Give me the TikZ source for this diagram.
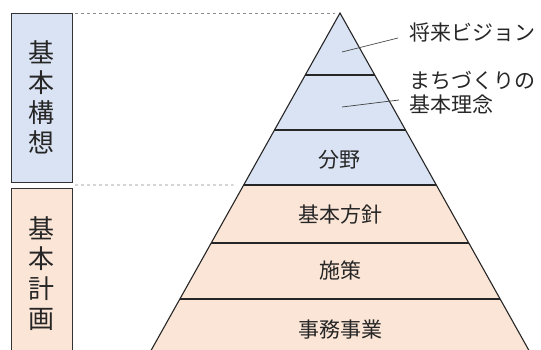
\documentclass[tikz,border=0pt]{standalone}
\usepackage{fontspec}
\setmainfont{Noto Sans CJK JP}
\usetikzlibrary{calc}

\definecolor{kosoblue}{HTML}{DAE3F3}
\definecolor{keikakuorange}{HTML}{FBE5D6}

\tikzset{
  layertext/.style={font=\fontsize{21}{24}\selectfont, text=black!85},
  sidebox/.style={draw=black!80, line width=1pt, minimum width=61pt,
    align=center, text=black!85, font=\fontsize{26}{30}\selectfont},
  guide/.style={dashed, black!45, line width=.6pt},
  leader/.style={black!75, line width=.7pt},
}

\begin{document}
\begin{tikzpicture}[x=1pt, y=-1pt]
  \clip (0,0) rectangle (541,349);

  % pyramid outline points
  \coordinate (apex) at (340,13);
  \coordinate (bl) at (145.7,360);
  \coordinate (br) at (534.3,360);

  \fill[keikakuorange] (apex) -- (bl) -- (br) -- cycle;
  \fill[kosoblue] (apex) -- ($(apex)!{172/347}!(bl)$) -- ($(apex)!{172/347}!(br)$) -- cycle;

  \foreach \y in {75,130,185,243,299}
    \draw[line width=1.1pt, black!85] ($(apex)!{(\y-13)/347}!(bl)$) -- ($(apex)!{(\y-13)/347}!(br)$);
  \draw[line width=1.1pt, black!85] (bl) -- (apex) -- (br);

  % side boxes
  \node[sidebox, fill=kosoblue, minimum height=169pt] (koso) at (41.5,97.5) {基\\本\\構\\想};
  \node[sidebox, fill=keikakuorange, minimum height=172pt] (keikaku) at (41.5,274) {基\\本\\計\\画};

  \coordinate (g1) at (75,13);
  \coordinate (g2) at (75,185);
  \draw[guide, shorten >=5pt] (g1) -- (apex);
  \draw[guide, shorten >=10pt] (g2) -- ($(apex)!{172/347}!(bl)$);

  % layer labels
  \node[layertext] (bunya) at (339,160) {分野};
  \node[layertext] (hoshin) at (340,215) {基本方針};
  \node[layertext] (shisaku) at (340,270) {施策};
  \node[layertext] (jigyo) at (340,330) {事務事業};

  \node[layertext, anchor=west] (vision) at (406,32) {将来ビジョン};
  \node[layertext, anchor=north west, align=left] (rinen) at (406,68) {まちづくりの\\基本理念};

  \coordinate (v0) at (342,52);
  \coordinate (v1) at (398,38);
  \coordinate (r0) at (342,107);
  \coordinate (r1) at (399,100);
  \draw[leader] (v0) -- (v1);
  \draw[leader] (r0) -- (r1);
\end{tikzpicture}
\end{document}
